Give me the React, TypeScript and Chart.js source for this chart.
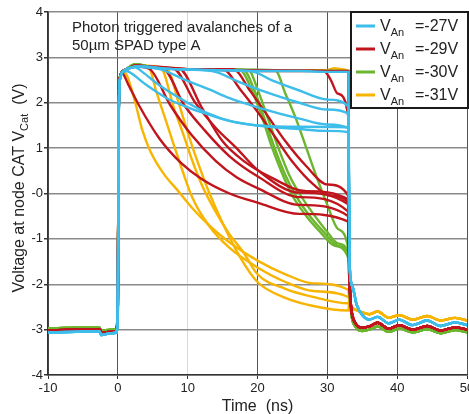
import React, { useEffect, useRef } from "react";
import { Chart, registerables } from "chart.js";

Chart.register(...registerables);

// ---------- axes / labels ----------
const xMin = -10;
const xMax = 50;
const yMin = -4;
const yMax = 4;
const seriesLabels = ["-27V", "-29V", "-30V", "-31V"];
const seriesColors = ["#3dbde9", "#c1151e", "#6cb52e", "#f7b400"];
const titleLines = ["Photon triggered avalanches of a", "50\u00b5m SPAD type A"];
const xTitle = "Time  (ns)";
const yTitleMain = "Voltage at node CAT V";
const yTitleSub = "Cat";
const yTitleEnd = "  (V)";

// ---------- common segments (time ns, voltage V) ----------
const leadCyan = [[-10, -3.06], [-6, -3.05], [-2.6, -3.04], [-2.4, -3.12], [-1, -3.08], [-0.25, -3.07], [0, -2.6], [0.12, 1.6], [0.35, 2.55]];
const leadRed = [[-10, -3.02], [-6, -3.0], [-2.6, -2.99], [-2.4, -3.06], [-1, -3.05], [-0.25, -3.03], [0, -2.5], [0.12, 1.7], [0.35, 2.58]];
const leadGreen = [[-10, -2.97], [-6, -2.96], [-2.6, -2.96], [-2.4, -3.02], [-1, -3.0], [-0.25, -2.99], [0, -2.4], [0.12, 1.8], [0.35, 2.6]];
const leadOrange = [[-10, -3.04], [-6, -3.02], [-2.6, -3.01], [-2.4, -3.08], [-1, -3.06], [-0.25, -3.05], [0, -2.5], [0.12, 1.7], [0.35, 2.58]];

const tailCyan = [[33.2, -1.6], [33.6, -2.05], [34.2, -2.45], [35, -2.68], [36, -2.78], [37.2, -2.72], [38.8, -2.86], [40.3, -2.78], [42.2, -2.9], [44.3, -2.8], [46.2, -2.92], [48.3, -2.84], [50, -2.9]];
const tailRed = [[33.15, -1.7], [33.4, -2.5], [34, -2.85], [35, -2.96], [36, -2.93], [37.2, -2.85], [38.8, -2.98], [40.3, -2.9], [42.2, -3.0], [44.3, -2.92], [46.2, -3.02], [48.3, -2.95], [50, -3.0]];
const tailGreen = [[33.15, -1.9], [33.4, -2.6], [34, -2.93], [35, -3.03], [36, -3.0], [37.2, -2.93], [38.8, -3.05], [40.3, -2.97], [42.2, -3.06], [44.3, -2.99], [46.2, -3.08], [48.3, -3.01], [50, -3.06]];
const tailOrange = [[33.15, -2.35], [33.4, -2.5], [34, -2.56], [35, -2.62], [36, -2.66], [37.2, -2.6], [38.8, -2.74], [40.3, -2.68], [42.2, -2.78], [44.3, -2.7], [46.2, -2.8], [48.3, -2.74], [50, -2.8]];

// ---------- individual avalanche traces (0 .. 33 ns) ----------
const cyanTraces = [
  [[1, 2.7], [2.5, 2.8], [4, 2.78], [8, 2.74], [14, 2.72], [20, 2.7], [26, 2.7], [30, 2.68], [33, 2.68]],
  [[1, 2.7], [1.6, 2.68], [4, 2.4], [7, 2.1], [10, 1.9], [13, 1.74], [16, 1.6], [20, 1.5], [26, 1.42], [30, 1.38], [33, 1.35]],
  [[1, 2.72], [2.5, 2.78], [3.5, 2.68], [6, 2.38], [10, 2.0], [13, 1.76], [16, 1.6], [20, 1.5], [26, 1.47], [33, 1.46]],
  [[1, 2.72], [3, 2.8], [6, 2.74], [10, 2.48], [13, 2.3], [16, 2.1], [20, 1.9], [26, 1.65], [30, 1.52], [33, 1.44]],
  [[1, 2.72], [3, 2.8], [8, 2.74], [13.5, 2.7], [17, 2.48], [20, 2.3], [26, 2.0], [30, 1.85], [33, 1.76]],
  [[1, 2.72], [3, 2.8], [8, 2.74], [14, 2.72], [19, 2.7], [22, 2.5], [26, 2.27], [30, 2.07], [33, 1.92]],
];

const redTraces = [
  [[1, 2.7], [2.5, 2.82], [5, 2.78], [10, 2.74], [20, 2.7], [28, 2.7], [33, 2.7]],
  [[1, 2.7], [2.5, 2.82], [5, 2.78], [10, 2.74], [20, 2.72], [29.5, 2.7], [30.5, 2.5], [31.5, 2.2], [33, 1.7]],
  [[0.6, 2.65], [1.5, 2.4], [3, 1.95], [6, 1.2], [9, 0.68], [12, 0.32], [16, 0.0], [20, -0.2], [26, -0.45], [33, -0.62]],
  [[1, 2.72], [2.5, 2.8], [4.5, 2.75], [7.5, 1.95], [10.5, 1.3], [14, 0.72], [17, 0.36], [20, 0.12], [26, -0.25], [33, -0.5]],
  [[1, 2.72], [2.5, 2.8], [6.5, 2.75], [9.5, 1.95], [12.5, 1.38], [16, 0.82], [20, 0.38], [26, -0.08], [33, -0.4]],
  [[1, 2.72], [2.5, 2.8], [8, 2.75], [11, 2.02], [14, 1.45], [17, 1.0], [20, 0.52], [26, 0.02], [33, -0.24]],
  [[1, 2.72], [2.5, 2.8], [8.8, 2.75], [12, 1.9], [15, 1.15], [18, 0.72], [22, 0.35], [27, 0.05], [33, -0.13]],
  [[1, 2.72], [2.5, 2.8], [10, 2.74], [15, 2.74], [17.5, 2.3], [20, 1.8], [22.5, 1.25], [25, 0.7], [28, 0.2], [30.5, -0.05], [33, -0.2]],
  [[1, 2.72], [2.5, 2.8], [10, 2.74], [16.5, 2.74], [19, 2.25], [21.5, 1.7], [24, 1.15], [27, 0.6], [30, 0.2], [33, -0.05]],
];

const greenTraces = [
  [[1, 2.72], [2.5, 2.85], [5, 2.78], [10, 2.74], [20, 2.72], [33, 2.7]],
  [[1, 2.72], [2.5, 2.85], [5, 2.78], [10, 2.74], [17.5, 2.72], [19, 2.35], [20.5, 1.75], [22, 1.05], [23.5, 0.45], [25, -0.05], [27, -0.5], [29, -0.85], [31, -1.15], [33, -1.42]],
  [[1, 2.72], [2.5, 2.85], [5, 2.78], [10, 2.74], [18, 2.72], [19.5, 2.3], [21, 1.65], [22.5, 0.98], [24, 0.4], [25.5, -0.05], [27.5, -0.5], [29.5, -0.85], [31.5, -1.15], [33, -1.35]],
  [[1, 2.72], [2.5, 2.85], [5, 2.78], [10, 2.74], [18.7, 2.72], [20, 2.3], [21.5, 1.65], [23, 1.0], [24.5, 0.42], [26, 0.0], [28, -0.45], [30, -0.85], [31.5, -1.1], [33, -1.3]],
  [[1, 2.72], [2.5, 2.85], [5, 2.78], [10, 2.74], [22.5, 2.72], [24, 2.2], [25.5, 1.65], [27, 1.0], [28.5, 0.35], [30, -0.25], [31.5, -0.78], [33, -1.22]],
];

const orangeTraces = [
  [[1, 2.72], [2.5, 2.82], [5, 2.78], [10, 2.74], [20, 2.72], [30, 2.72], [31, 2.76], [32, 2.74], [33, 2.7]],
  [[0.8, 2.66], [1.3, 2.6], [2.5, 2.0], [3.5, 1.4], [4.6, 0.95], [6.5, 0.45], [8.5, 0.08], [11, -0.38], [13.2, -0.72], [16, -1.08], [20, -1.48], [24, -1.78], [28, -1.98], [33, -2.12]],
  [[1, 2.72], [2.5, 2.82], [4.5, 2.75], [5.5, 2.25], [7, 1.55], [8.5, 0.85], [10.7, -0.1], [13, -0.7], [16, -1.2], [20, -1.63], [24, -1.95], [28, -2.15], [33, -2.28]],
  [[1, 2.72], [2.5, 2.82], [6.2, 2.75], [8, 1.9], [9.5, 1.25], [10.6, 0.75], [12, 0.2], [14, -0.4], [16, -0.9], [18, -1.3], [20, -1.78], [24, -2.1], [28, -2.28], [33, -2.42]],
  [[1, 2.72], [2.5, 2.82], [7, 2.75], [8.8, 1.95], [10, 1.35], [11.3, 0.75], [13, 0.05], [15, -0.65], [17.5, -1.4], [20, -1.95], [24, -2.3], [28, -2.48], [33, -2.58]],
];

const FONT = "'Liberation Sans', Arial, Helvetica, sans-serif";

function buildDatasets() {
  const groups = [
    { traces: cyanTraces, lead: leadCyan, tail: tailCyan, color: seriesColors[0], label: seriesLabels[0] },
    { traces: redTraces, lead: leadRed, tail: tailRed, color: seriesColors[1], label: seriesLabels[1] },
    { traces: greenTraces, lead: leadGreen, tail: tailGreen, color: seriesColors[2], label: seriesLabels[2] },
    { traces: orangeTraces, lead: leadOrange, tail: tailOrange, color: seriesColors[3], label: seriesLabels[3] },
  ];
  const out: any[] = [];
  groups.forEach((g) => {
    g.traces.forEach((body) => {
      const pts = [...g.lead, ...body, ...g.tail].map(([x, y]) => ({ x, y }));
      out.push({
        label: g.label,
        data: pts,
        borderColor: g.color,
        backgroundColor: g.color,
        borderWidth: 2.4,
        pointRadius: 0,
        fill: false,
        cubicInterpolationMode: "monotone",
      });
    });
  });
  return out;
}

const decorPlugin = {
  id: "decor",
  afterDraw(chart: any) {
    const ctx = chart.ctx as CanvasRenderingContext2D;
    const area = chart.chartArea;
    ctx.save();
    ctx.fillStyle = "#222";
    ctx.textBaseline = "alphabetic";
    ctx.textAlign = "left";

    // annotation
    ctx.font = `15px ${FONT}`;
    ctx.fillText(titleLines[0], 72, 32);
    ctx.fillText(titleLines[1], 72, 50);

    // x title
    ctx.font = `16px ${FONT}`;
    ctx.textAlign = "center";
    ctx.fillText(xTitle, (area.left + area.right) / 2, 411);

    // y title (rotated, with subscript)
    ctx.textAlign = "left";
    const mainFont = `16px ${FONT}`;
    const subFont = `11px ${FONT}`;
    ctx.font = mainFont;
    const w1 = ctx.measureText(yTitleMain).width;
    const w3 = ctx.measureText(yTitleEnd).width;
    ctx.font = subFont;
    const w2 = ctx.measureText(yTitleSub).width;
    const total = w1 + w2 + w3;
    ctx.save();
    ctx.translate(24, 188);
    ctx.rotate(-Math.PI / 2);
    let px = -total / 2;
    ctx.font = mainFont;
    ctx.fillText(yTitleMain, px, 0);
    px += w1;
    ctx.font = subFont;
    ctx.fillText(yTitleSub, px, 4);
    px += w2;
    ctx.font = mainFont;
    ctx.fillText(yTitleEnd, px, 0);
    ctx.restore();

    // legend box
    const bx = 351, by = 12, bw = 117, bh = 96;
    ctx.fillStyle = "#fff";
    ctx.fillRect(bx, by, bw, bh);
    ctx.strokeStyle = "#1a1a1a";
    ctx.lineWidth = 2;
    ctx.strokeRect(bx, by, bw, bh);
    const rowY = [26, 49, 72, 95];
    seriesLabels.forEach((lab, i) => {
      const y = rowY[i];
      ctx.strokeStyle = seriesColors[i];
      ctx.lineWidth = 3;
      ctx.beginPath();
      ctx.moveTo(356, y);
      ctx.lineTo(375, y);
      ctx.stroke();
      ctx.fillStyle = "#222";
      ctx.font = `16px ${FONT}`;
      ctx.fillText("V", 380, y + 5);
      const vw = ctx.measureText("V").width;
      ctx.font = `11px ${FONT}`;
      ctx.fillText("An", 380 + vw, y + 10);
      ctx.font = `16px ${FONT}`;
      ctx.fillText("=" + lab, 415, y + 5);
    });
    ctx.restore();
  },
};

export default function App() {
  const ref = useRef<HTMLCanvasElement>(null);
  useEffect(() => {
    const canvas = ref.current!;
    const chart = new Chart(canvas, {
      type: "line",
      data: { datasets: buildDatasets() },
      options: {
        responsive: false,
        animation: false,
        devicePixelRatio: 1,
        layout: { padding: { top: 12, right: 2, left: 0, bottom: 0 } },
        plugins: { legend: { display: false }, tooltip: { enabled: false } },
        elements: { line: { tension: 0 } },
        scales: {
          x: {
            type: "linear",
            min: xMin,
            max: xMax,
            ticks: { stepSize: 10, color: "#222", font: { size: 13, family: FONT }, padding: 2, maxRotation: 0 },
            grid: {
              color: (c: any) => (c.tick && c.tick.value === 10 ? "#d6d6d6" : "#555"),
              lineWidth: 1,
              tickLength: 4,
              tickColor: "#333",
            },
            border: { color: "#333", width: 1.5 },
            afterFit: (s: any) => {
              s.height = 39;
              s.paddingLeft = 0;
              s.paddingRight = 0;
            },
          },
          y: {
            type: "linear",
            min: yMin,
            max: yMax,
            ticks: {
              stepSize: 1,
              color: "#222",
              font: { size: 13, family: FONT },
              padding: 1,
              callback: (v: any) => (v === 0 ? "-0" : String(v)),
            },
            grid: { color: "#8a8a8a", lineWidth: 1.5, tickLength: 4, tickColor: "#333" },
            border: { color: "#333", width: 1.5 },
            afterFit: (s: any) => {
              s.width = 48;
              s.paddingTop = 0;
              s.paddingBottom = 0;
            },
          },
        },
      },
      plugins: [decorPlugin],
    } as any);
    return () => chart.destroy();
  }, []);
  return (
    <div style={{ position: "fixed", left: 0, top: 0, width: 469, height: 414, background: "#fff" }}>
      <canvas ref={ref} width={469} height={414} style={{ display: "block", width: 469, height: 414 }} />
    </div>
  );
}
